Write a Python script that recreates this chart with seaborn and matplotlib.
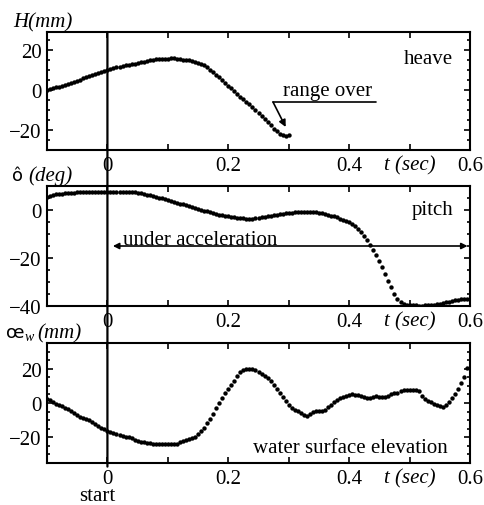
import numpy as np
import pandas as pd
import matplotlib
matplotlib.use('Agg')
import matplotlib.pyplot as plt
import seaborn as sns
from matplotlib.patches import ConnectionPatch
from matplotlib.ticker import MultipleLocator

# sampling: every 5 ms starting at t = -0.1 s
t0 = -0.1
dt = 0.005

# heave H (mm), -0.1 .. 0.3 s
heave = [0.0, 0.5, 0.9, 1.3, 1.7, 2.2, 2.7, 3.1, 3.6, 4.1,
         4.7, 5.2, 5.8, 6.3, 6.9, 7.5, 8.0, 8.5, 9.0, 9.5,
         10.0, 10.5, 10.9, 11.3, 11.7, 12.0, 12.3, 12.6, 12.9, 13.2,
         13.5, 13.8, 14.2, 14.5, 14.8, 15.1, 15.3, 15.4, 15.5, 15.5,
         15.6, 15.8, 16.0, 15.7, 15.4, 15.2, 15.0, 14.8, 14.5, 14.1,
         13.6, 13.0, 12.3, 11.3, 10.2, 8.9, 7.6, 6.3, 4.9, 3.6,
         2.2, 0.8, -0.6, -2.0, -3.3, -4.6, -5.8, -7.1, -8.4, -9.8,
         -11.3, -12.8, -14.4, -16.0, -17.6, -19.3, -20.7, -21.8, -22.6, -22.8,
         -22.4]

# pitch (deg), -0.1 .. 0.595 s
pitch = [5.6, 6.0, 6.3, 6.5, 6.7, 6.8, 6.9, 7.0, 7.1, 7.2,
         7.3, 7.4, 7.4, 7.5, 7.6, 7.6, 7.6, 7.7, 7.7, 7.7,
         7.7, 7.7, 7.7, 7.6, 7.6, 7.6, 7.5, 7.5, 7.4, 7.3,
         7.2, 7.0, 6.7, 6.4, 6.1, 5.8, 5.5, 5.2, 4.8, 4.4,
         4.0, 3.6, 3.2, 2.9, 2.6, 2.3, 1.9, 1.5, 1.2, 0.8,
         0.5, 0.1, -0.3, -0.6, -0.9, -1.3, -1.6, -1.9, -2.2, -2.5,
         -2.7, -2.9, -3.1, -3.3, -3.4, -3.5, -3.6, -3.6, -3.6, -3.5,
         -3.3, -3.1, -2.9, -2.6, -2.4, -2.1, -1.9, -1.7, -1.5, -1.3,
         -1.2, -1.1, -1.0, -0.9, -0.8, -0.7, -0.7, -0.7, -0.8, -0.9,
         -1.1, -1.3, -1.6, -1.9, -2.3, -2.7, -3.1, -3.6, -4.1, -4.6,
         -5.2, -5.9, -6.8, -7.9, -9.1, -10.8, -12.6, -14.4, -16.5, -18.9,
         -21.4, -23.9, -26.6, -29.4, -32.2, -34.9, -37.0, -38.3, -39.1, -39.5,
         -39.7, -39.7, -39.7, -39.8, -39.8, -39.7, -39.7, -39.6, -39.5, -39.3,
         -39.1, -38.8, -38.5, -38.2, -37.9, -37.6, -37.3, -37.1, -36.9, -36.9]

# water surface elevation (mm), -0.1 .. 0.595 s
water = [2.2, 1.5, 0.6, -0.3, -1.2, -2.0, -2.8, -3.7, -4.7, -5.8,
         -7.0, -7.9, -8.6, -9.3, -10.2, -11.1, -12.0, -13.2, -14.3, -15.2,
         -16.3, -17.0, -17.6, -18.2, -18.8, -19.4, -19.8, -20.1, -20.7, -21.4,
         -22.1, -22.6, -23.0, -23.3, -23.5, -23.8, -24.0, -24.1, -24.1, -24.1,
         -24.0, -24.1, -24.2, -24.0, -23.0, -22.4, -21.8, -21.2, -20.6, -19.6,
         -18.2, -16.4, -14.4, -11.9, -9.2, -6.3, -3.2, -0.2, 2.9, 5.8,
         8.4, 10.6, 13.0, 15.6, 17.9, 19.5, 19.9, 19.8, 19.6, 19.1,
         18.3, 17.2, 15.9, 14.4, 12.6, 10.6, 8.4, 6.0, 3.4, 1.0,
         -1.0, -2.7, -3.9, -4.7, -5.6, -6.8, -7.4, -6.6, -5.3, -4.6,
         -4.5, -4.6, -4.0, -2.6, -1.0, 0.5, 1.8, 2.7, 3.4, 4.0,
         4.7, 5.1, 4.9, 4.6, 4.3, 3.7, 3.0, 3.1, 3.6, 3.8,
         3.6, 3.4, 3.7, 4.3, 5.0, 5.6, 6.1, 6.9, 7.4, 7.7,
         7.7, 7.5, 7.6, 6.8, 4.3, 2.5, 1.3, 0.3, -0.5, -1.2,
         -2.0, -2.4, -1.2, 0.8, 3.0, 5.1, 8.3, 11.6, 15.2, 20.5]

xticks = [-0.1, 0.0, 0.1, 0.2, 0.3, 0.4, 0.5, 0.6]
xticklabels = ['', '0', '', '0.2', '', '0.4', 't (sec)', '0.6']


def series(vals):
    t = np.round(t0 + dt * np.arange(len(vals)), 3)
    return pd.DataFrame({'t': t, 'v': vals})


sns.set_style('ticks')
plt.rcParams['font.family'] = ['Liberation Serif', 'DejaVu Serif']
plt.rcParams['text.color'] = 'black'
plt.rcParams['axes.labelcolor'] = 'black'
plt.rcParams['xtick.color'] = 'black'
plt.rcParams['ytick.color'] = 'black'

W, H = 484, 506
fig = plt.figure(figsize=(W / 100, H / 100), dpi=100)


def box(top, bottom):
    return [47 / W, 1 - bottom / H, (470 - 47) / W, (bottom - top) / H]


ax1 = fig.add_axes(box(33, 151))
ax2 = fig.add_axes(box(187, 307))
ax3 = fig.add_axes(box(344, 464))

for ax, vals, ylim in [(ax1, heave, (-30, 29)), (ax2, pitch, (-40, 10)), (ax3, water, (-35, 35))]:
    sns.scatterplot(data=series(vals), x='t', y='v', ax=ax, color='black',
                    s=10, linewidth=0, legend=False)
    ax.set_xlim(-0.1, 0.6)
    ax.set_ylim(*ylim)
    ax.set_xlabel('')
    ax.set_ylabel('')
    ax.set_xticks(xticks, xticklabels)
    ax.yaxis.set_major_locator(MultipleLocator(20))
    ax.yaxis.set_minor_locator(MultipleLocator(5))
    ax.tick_params(which='both', direction='in', top=True, right=True,
                   labelsize=15, width=1.2, pad=4, colors='black')
    ax.tick_params(which='major', length=4)
    ax.tick_params(which='minor', length=2.2)
    for lbl in ax.get_xticklabels():
        if lbl.get_text() == 't (sec)':
            lbl.set_fontstyle('italic')
    for sp in ax.spines.values():
        sp.set_linewidth(1.5)
        sp.set_color('black')

# t = 0 line through all panels
con = ConnectionPatch(xyA=(0, 1), coordsA=ax1.get_xaxis_transform(),
                      xyB=(0, -0.03), coordsB=ax3.get_xaxis_transform(),
                      color='black', lw=1.6)
fig.add_artist(con)
ax3.text(-0.017, -0.275, 'start', transform=ax3.get_xaxis_transform(),
         ha='center', va='center', fontsize=15)

# heave
ax1.text(0.572, 13.5, 'heave', ha='right', va='baseline', fontsize=15)
ax1.plot([0.274, 0.445], [-6, -6], color='black', lw=1.2)
ax1.annotate('', xy=(0.295, -18.5), xytext=(0.274, -6),
             arrowprops=dict(arrowstyle='-|>', color='black', lw=1.2,
                             mutation_scale=10, shrinkA=0, shrinkB=0))
ax1.text(0.364, -2.5, 'range over', ha='center', va='baseline', fontsize=15)

# pitch
ax2.annotate('', xy=(0.009, -15), xytext=(0.596, -15),
             arrowprops=dict(arrowstyle='<|-|>', color='black', lw=1.2,
                             mutation_scale=9, shrinkA=0, shrinkB=0))
ax2.text(0.026, -14, 'under acceleration', ha='left', va='baseline', fontsize=15)
ax2.text(0.573, -1.8, 'pitch', ha='right', va='baseline', fontsize=15)

# water
ax3.text(0.563, -28.8, 'water surface elevation', ha='right', va='baseline', fontsize=15)


def fx(px):
    return px / W


def fy(py):
    return 1 - py / H


fig.text(fx(13), fy(27), 'H(mm)', style='italic', fontsize=15, va='baseline')
fig.text(fx(12), fy(181), 'ô', family='DejaVu Sans', fontsize=13, va='baseline')
fig.text(fx(28), fy(181), '(deg)', style='italic', fontsize=15, va='baseline')
fig.text(fx(6), fy(338), 'œ', family='DejaVu Sans', fontsize=13, va='baseline')
fig.text(fx(25), fy(341), 'w', style='italic', fontsize=10, va='baseline')
fig.text(fx(37), fy(338), '(mm)', style='italic', fontsize=15, va='baseline')

fig.savefig('out.png', dpi=100)
